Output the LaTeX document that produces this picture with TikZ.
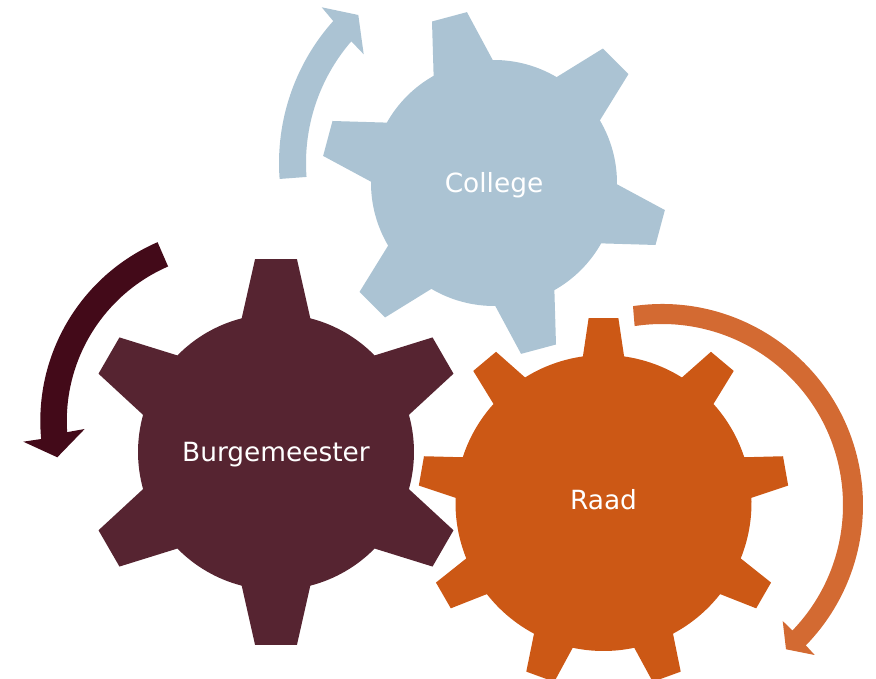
\documentclass[tikz,border=0pt]{standalone}
\usepackage{fontspec}
\setmainfont{DejaVu Sans}

\definecolor{collegeblue}{HTML}{ABC3D3}
\definecolor{burgwine}{HTML}{562431}
\definecolor{burgdark}{HTML}{430A19}
\definecolor{raadorange}{HTML}{CC5815}
\definecolor{raadlight}{HTML}{D36A32}

\tikzset{
  gearlabel/.style={text=white, font=\fontsize{26.4}{30}\selectfont, inner sep=0pt},
}

% center, r, tip radius, base half angle, tip half angle, first tooth, teeth, colour
\newcommand{\gearshape}[8]{
  \fill[#8, shift={#1}] ({#6-#4}:#2)
    \foreach \k [evaluate=\k as \a using #6+(\k-1)*360/#7] in {1,...,#7} {
      -- ({\a-#5}:#3) -- ({\a+#5}:#3) -- ({\a+#4}:#2)
      arc[start angle=\a+#4, end angle=\a+360/#7-#4, radius=#2]
    } -- cycle;
}

\begin{document}
\begin{tikzpicture}[x=1pt, y=1pt]
  \useasboundingbox (0,0) rectangle (876,679);

  \gearshape{(494,496)}{123}{173}{14.4}{6}{45}{6}{collegeblue}
  \gearshape{(276,227)}{138}{194}{14.4}{6.2}{30}{6}{burgwine}
  \gearshape{(603.5,176)}{148}{185.5}{8}{4.6}{10}{9}{raadorange}

  \node[gearlabel] (college) at (494,494) {College};
  \node[gearlabel] (burgemeester) at (276,224) {Burgemeester};
  \node[gearlabel] (raad) at (603.5,179) {Raad};

  % arrow heads
  \coordinate (collegebarba) at (321.7,671.7);
  \coordinate (collegetip) at (358.3,664);
  \coordinate (collegebarbb) at (363.7,624.7);
  \coordinate (burgbarba) at (23.3,237.3);
  \coordinate (burgtip) at (57.3,221.7);
  \coordinate (burgbarbb) at (84.7,250);
  \coordinate (raadbarba) at (814.7,24);
  \coordinate (raadtip) at (786,29.7);
  \coordinate (raadbarbb) at (782.7,58);

  \fill[collegeblue, shift={(492,516)}] (184.3:213)
    arc[start angle=184.3, end angle=138.2, radius=213]
    -- (collegebarba) -- (collegetip) -- (collegebarbb) -- (139.15:186)
    arc[start angle=139.15, end angle=184.3, radius=186] -- cycle;
  \fill[burgdark, shift={(235.3,258)}] (113.5:195)
    arc[start angle=113.5, end angle=185.3, radius=195]
    -- (burgbarba) -- (burgtip) -- (burgbarbb) -- (183.8:168.5)
    arc[start angle=183.8, end angle=113.5, radius=168.5] -- cycle;
  \fill[raadlight, shift={(662,174)}] (98.3:201)
    arc[start angle=98.3, end angle=-44.3, radius=201]
    -- (raadbarba) -- (raadtip) -- (raadbarbb) -- (-43.9:181)
    arc[start angle=-43.9, end angle=98.7, radius=181] -- cycle;
\end{tikzpicture}
\end{document}
